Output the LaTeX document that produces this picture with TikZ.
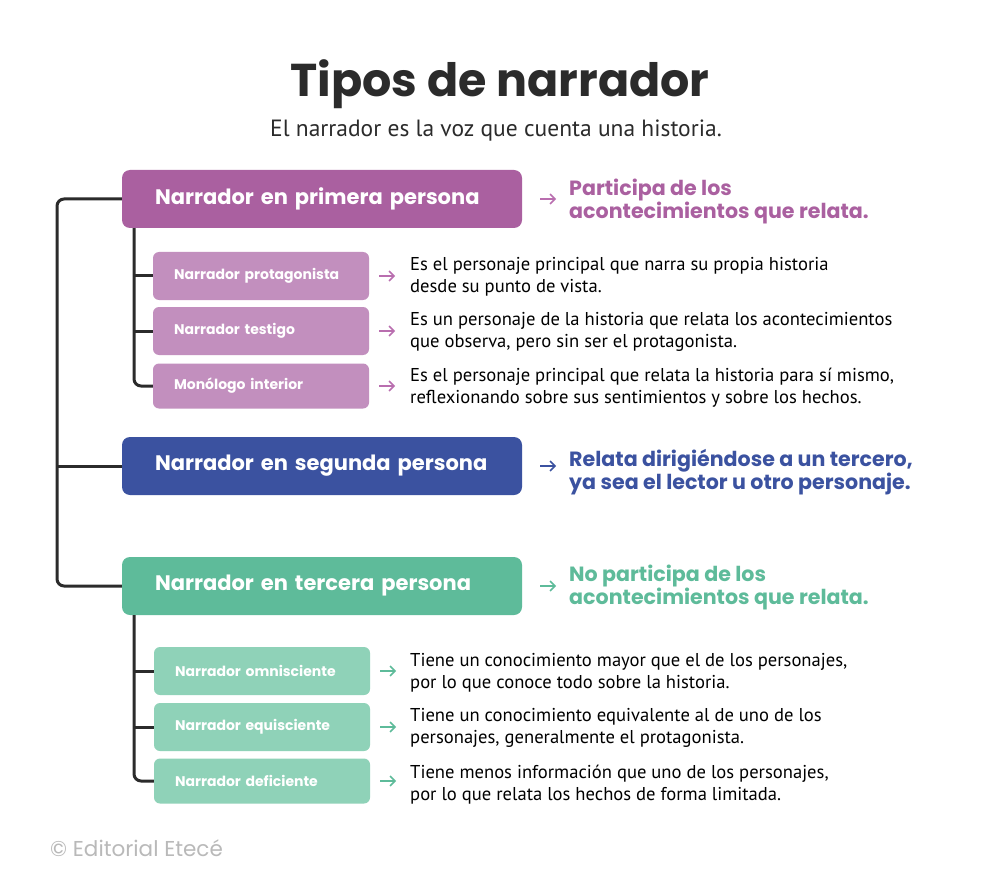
\documentclass[tikz,border=0pt]{standalone}
\usepackage{fontspec}
\setmainfont{PT Sans}
\newfontfamily\popfont{Poppins}
\usetikzlibrary{arrows.meta}
\definecolor{cPur}{RGB}{170,96,160}
\definecolor{cPurL}{RGB}{194,143,190}
\definecolor{cPurA}{RGB}{185,110,175}
\definecolor{cBlu}{RGB}{59,82,160}
\definecolor{cGrn}{RGB}{94,187,154}
\definecolor{cGrnL}{RGB}{143,210,184}
\definecolor{cLine}{RGB}{43,43,43}
\definecolor{cGray}{RGB}{185,185,185}
\tikzset{
  mainbox/.style={rounded corners=8pt, minimum height=58pt, inner xsep=33pt,
    text width=334pt, align=left, text=white, font=\popfont\bfseries\fontsize{21}{24}\selectfont},
  subbox/.style={rounded corners=6pt, minimum height=48pt, inner xsep=21pt,
    text width=174pt, align=left, text=white, font=\popfont\bfseries\fontsize{14}{17}\selectfont},
  lead/.style={anchor=west, inner sep=0pt, align=left, font=\popfont\bfseries\fontsize{20.6}{23}\selectfont},
  desc/.style={anchor=west, inner sep=0pt, align=left, font=\fontsize{18.6}{22}\selectfont},
  trunk/.style={draw=cLine, line width=3pt, rounded corners=7pt},
  arr/.style={-{Straight Barb[length=5pt,width=10pt]}, line width=1.6pt},
}
\begin{document}
\begin{tikzpicture}[x=1pt,y=-1pt]
\useasboundingbox[fill=white] (0,0) rectangle (1000,882);
\node[font=\popfont\bfseries\fontsize{46}{50}\selectfont, text=cLine] (title) at (500,84) {Tipos de narrador};
\node[font=\fontsize{23.5}{26}\selectfont, text=cLine] (sub) at (496,131) {El narrador es la voz que cuenta una historia.};

% main boxes
\node[mainbox, fill=cPur] (p1) at (322,199) {Narrador en primera persona};
\node[mainbox, fill=cBlu] (p2) at (322,466) {Narrador en segunda persona};
\node[mainbox, fill=cGrn] (p3) at (322,586) {Narrador en tercera persona};

\node[lead, text=cPur] (l1) at (569,201) {Participa de los\\acontecimientos que relata.};
\node[lead, text=cBlu] (l2) at (569,472) {Relata dirigiéndose a un tercero,\\ya sea el lector u otro personaje.};
\node[lead, text=cGrn] (l3) at (569,587) {No participa de los\\acontecimientos que relata.};

% sub boxes first person
\node[subbox, fill=cPurL] (a1) at (261,276) {\mbox{Narrador protagonista}};
\node[subbox, fill=cPurL] (a2) at (261,331) {Narrador testigo};
\node[subbox, fill=cPurL, minimum height=45pt] (a3) at (261,386) {Monólogo interior};
\node[desc] (da1) at (410,277) {Es el personaje principal que narra su propia historia\\desde su punto de vista.};
\node[desc] (da2) at (410,332) {Es un personaje de la historia que relata los acontecimientos\\que observa, pero sin ser el protagonista.};
\node[desc] (da3) at (410,388) {Es el personaje principal que relata la historia para sí mismo,\\reflexionando sobre sus sentimientos y sobre los hechos.};

% sub boxes third person
\node[subbox, fill=cGrnL] (b1) at (262,671) {\mbox{Narrador omnisciente}};
\node[subbox, fill=cGrnL] (b2) at (262,727) {\mbox{Narrador equisciente}};
\node[subbox, fill=cGrnL, minimum height=45pt] (b3) at (262,781) {Narrador deficiente};
\node[desc] (db1) at (410,673) {Tiene un conocimiento mayor que el de los personajes,\\por lo que conoce todo sobre la historia.};
\node[desc] (db2) at (410,728) {Tiene un conocimiento equivalente al de uno de los\\personajes, generalmente el protagonista.};
\node[desc] (db3) at (410,785) {Tiene menos información que uno de los personajes,\\por lo que relata los hechos de forma limitada.};

\node[anchor=west, inner sep=0pt, text=cGray, font=\popfont\fontsize{21.5}{24}\selectfont] (foot) at (50,848) {© Editorial Etecé};

% trunks
\coordinate (tx) at (57,0);
\draw[trunk] (p1.west) -- (p1.west -| tx) |- (p3.west);
\draw[trunk] (p2.west -| tx) -- (p2.west);
\coordinate (sa) at (134,0);
\draw[trunk] (p1.south -| sa) |- (a3.west);
\draw[trunk] (a1.west -| sa) -- (a1.west);
\draw[trunk] (a2.west -| sa) -- (a2.west);
\draw[trunk] (p3.south -| sa) |- (b3.west);
\draw[trunk] (b1.west -| sa) -- (b1.west);
\draw[trunk] (b2.west -| sa) -- (b2.west);

% arrows
\draw[arr, draw=cPurA] (p1.east) ++(18,0) -- ++(16,0);
\draw[arr, draw=cBlu] (p2.east) ++(18,0) -- ++(16,0);
\draw[arr, draw=cGrn] (p3.east) ++(18,0) -- ++(16,0);
\foreach \n in {a1,a2,a3} \draw[arr, draw=cPurA] (\n.east) ++(10,0) -- ++(16,0);
\foreach \n in {b1,b2,b3} \draw[arr, draw=cGrn] (\n.east) ++(10,0) -- ++(16,0);
\end{tikzpicture}
\end{document}
